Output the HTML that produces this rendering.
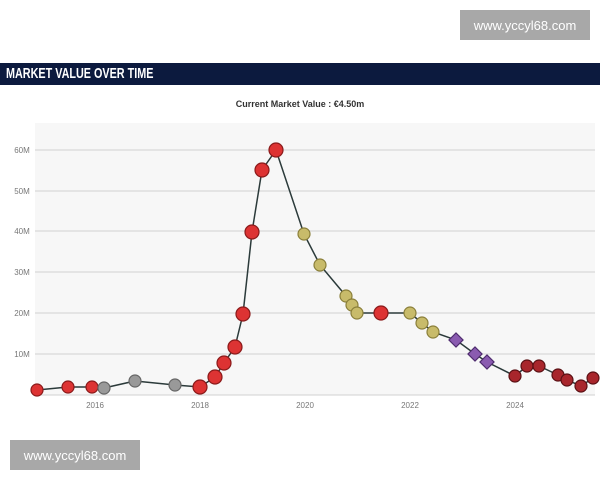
<!DOCTYPE html>
<html><head><meta charset="utf-8"><style>
body{margin:0;width:600px;height:480px;background:#fff;overflow:hidden;position:relative;font-family:"Liberation Sans",sans-serif}
.wm{position:absolute;background:#a8a8a8;color:#fff;font-size:13px;display:flex;align-items:center;justify-content:center}
.hdr{position:absolute;left:0;top:63px;width:600px;height:22px;background:#0c1a3e}
.hdr span{position:absolute;left:6px;top:0;color:#fff;font-family:"Liberation Sans Narrow","Liberation Sans",sans-serif;font-weight:bold;font-size:15px;line-height:22px;transform:scaleX(0.72);transform-origin:left;white-space:nowrap}
</style></head><body>
<div class="wm" style="left:460px;top:10px;width:130px;height:30px">www.yccyl68.com</div>
<div class="hdr"><span>MARKET VALUE OVER TIME</span></div>
<div class="wm" style="left:10px;top:440px;width:130px;height:30px">www.yccyl68.com</div>
<svg width="600" height="480" style="position:absolute;left:0;top:0">
<text x="300" y="107" text-anchor="middle" font-size="9" font-weight="bold" fill="#333">Current Market Value : €4.50m</text>
<rect x="35" y="123" width="560" height="272" fill="#f7f7f7"/>
<g stroke="#d0d0d0" stroke-width="1">
<line x1="35" y1="150" x2="595" y2="150"/><line x1="35" y1="191" x2="595" y2="191"/><line x1="35" y1="231" x2="595" y2="231"/><line x1="35" y1="272" x2="595" y2="272"/><line x1="35" y1="313" x2="595" y2="313"/><line x1="35" y1="354" x2="595" y2="354"/><line x1="35" y1="395" x2="595" y2="395"/>
</g>
<g font-size="8" fill="#777" text-anchor="middle">
<text x="22" y="153">60M</text><text x="22" y="194">50M</text><text x="22" y="234">40M</text><text x="22" y="275">30M</text><text x="22" y="316">20M</text><text x="22" y="357">10M</text>
<text x="95" y="408">2016</text><text x="200" y="408">2018</text><text x="305" y="408">2020</text><text x="410" y="408">2022</text><text x="515" y="408">2024</text>
</g>
<polyline fill="none" stroke="#2b3a3a" stroke-width="1.5" points="37,390 68,387 92,387 104,388 135,381 175,385 200,387 215,377 224,363 235,347 243,314 252,232 262,170 276,150 304,234 320,265 346,296 352,305 357,313 381,313 410,313 422,323 433,332 456,340 475,354 487,362 515,376 527,366 539,366 558,375 567,380 581,386 593,378"/>
<g stroke-width="1.2">
<g fill="#d33" stroke="#8a1a1a">
<circle cx="37" cy="390" r="6"/><circle cx="68" cy="387" r="6"/><circle cx="92" cy="387" r="6"/>
<circle cx="200" cy="387" r="7"/><circle cx="215" cy="377" r="7"/><circle cx="224" cy="363" r="7"/><circle cx="235" cy="347" r="7"/><circle cx="243" cy="314" r="7"/><circle cx="252" cy="232" r="7"/><circle cx="262" cy="170" r="7"/><circle cx="276" cy="150" r="7"/><circle cx="381" cy="313" r="7"/>
</g>
<g fill="#999" stroke="#666"><circle cx="104" cy="388" r="6"/><circle cx="135" cy="381" r="6"/><circle cx="175" cy="385" r="6"/></g>
<g fill="#c8bb6a" stroke="#8a7f3a"><circle cx="304" cy="234" r="6"/><circle cx="320" cy="265" r="6"/><circle cx="346" cy="296" r="6"/><circle cx="352" cy="305" r="6"/><circle cx="357" cy="313" r="6"/><circle cx="410" cy="313" r="6"/><circle cx="422" cy="323" r="6"/><circle cx="433" cy="332" r="6"/></g>
<g fill="#8a5bb0" stroke="#4e2c6e"><rect x="451" y="335" width="10" height="10" transform="rotate(45 456 340)"/><rect x="470" y="349" width="10" height="10" transform="rotate(45 475 354)"/><rect x="482" y="357" width="10" height="10" transform="rotate(45 487 362)"/></g>
<g fill="#a8262c" stroke="#5a1014"><circle cx="515" cy="376" r="6"/><circle cx="527" cy="366" r="6"/><circle cx="539" cy="366" r="6"/><circle cx="558" cy="375" r="6"/><circle cx="567" cy="380" r="6"/><circle cx="581" cy="386" r="6"/><circle cx="593" cy="378" r="6"/></g>
</g>
</svg>
</body></html>
